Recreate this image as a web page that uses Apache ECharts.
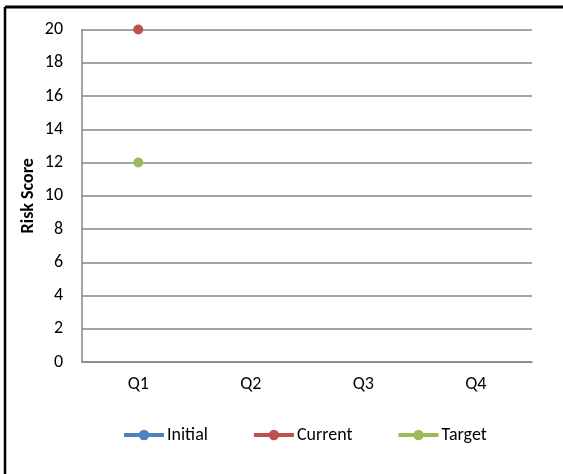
<!DOCTYPE html>
<html>
<head>
<meta charset="utf-8">
<script src="https://cdn.jsdelivr.net/npm/echarts@6/dist/echarts.min.js"></script>
<style>
  html, body { margin: 0; padding: 0; background: #fff; }
  #chart { width: 563px; height: 474px; }
</style>
</head>
<body>
<div id="chart"></div>
<script>
// Quarterly risk scores
const quarters = ['Q1', 'Q2', 'Q3', 'Q4'];
const initialScores = [null, null, null, null];
const currentScores = [20, null, null, null];
const targetScores = [12, null, null, null];
const yTicks = { min: 0, max: 20, interval: 2 };

const font = 'Carlito, "Open Sans", "Liberation Sans", sans-serif';

function lineSeries(name, data, color) {
  return {
    name: name,
    type: 'line',
    data: data,
    symbol: 'circle',
    symbolSize: 10,
    lineStyle: { color: color, width: 4 },
    itemStyle: { color: color },
    connectNulls: false
  };
}

const chart = echarts.init(document.getElementById('chart'), null, { renderer: 'canvas' });
chart.setOption({
  animation: false,
  backgroundColor: '#ffffff',
  textStyle: { fontFamily: font },
  graphic: [
    { type: 'line', shape: { x1: 5, y1: 7, x2: 563, y2: 7 }, style: { stroke: '#000', lineWidth: 3 } },
    { type: 'line', shape: { x1: 5, y1: 7, x2: 5, y2: 474 }, style: { stroke: '#000', lineWidth: 2.5 } }
  ],
  grid: { left: 82, right: 31, top: 29.5, bottom: 112, containLabel: false },
  legend: {
    top: 421,
    left: 117,
    itemWidth: 40,
    itemHeight: 13,
    itemGap: 44,
    lineStyle: { width: 4 },
    textStyle: { fontFamily: font, fontSize: 18, color: '#000', padding: [0, 0, 0, -2] },
    data: ['Initial', 'Current', 'Target']
  },
  xAxis: {
    type: 'category',
    data: quarters,
    boundaryGap: true,
    axisLine: { lineStyle: { color: '#868686', width: 1.5 } },
    axisTick: { show: false },
    axisLabel: { color: '#000', fontSize: 18, margin: 13, fontFamily: font }
  },
  yAxis: {
    type: 'value',
    min: yTicks.min,
    max: yTicks.max,
    interval: yTicks.interval,
    name: 'Risk Score',
    nameLocation: 'middle',
    nameGap: 45,
    nameMoveOverlap: false,
    nameTextStyle: { color: '#000', fontSize: 18, fontWeight: 'bold', fontFamily: font },
    axisLine: { show: true, lineStyle: { color: '#868686', width: 1.5 } },
    axisTick: { show: false },
    axisLabel: { color: '#000', fontSize: 18, margin: 19, fontFamily: font },
    splitLine: { lineStyle: { color: '#868686', width: 1.5 } }
  },
  series: [
    lineSeries('Initial', initialScores, '#4F81BD'),
    lineSeries('Current', currentScores, '#C0504D'),
    lineSeries('Target', targetScores, '#9BBB59')
  ]
});
</script>
</body>
</html>
